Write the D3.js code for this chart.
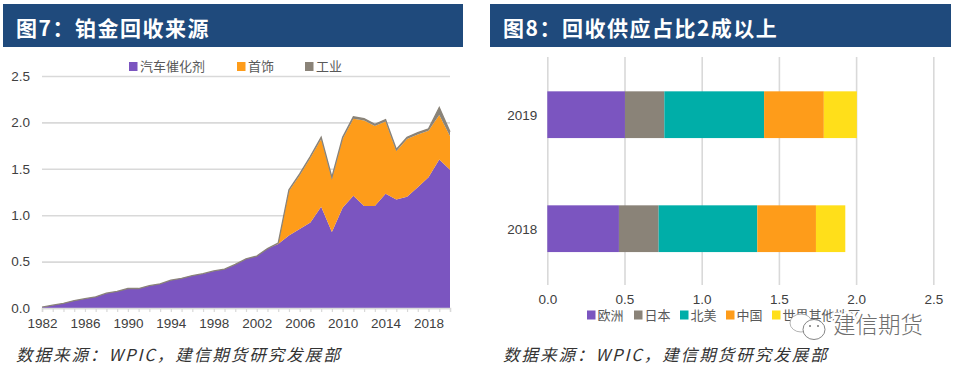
<!DOCTYPE html>
<html>
<head>
<meta charset="utf-8">
<script src="https://cdn.jsdelivr.net/npm/d3@7"></script>
<style>
  html, body { margin: 0; padding: 0; background: #fff; }
  svg { display: block; }
  .tick text, .num { font-family: "Liberation Sans", Arial, sans-serif; font-size: 13.5px; fill: #404040; }
  .legend text { font-family: "Noto Sans CJK SC", sans-serif; font-size: 13px; fill: #595959; }
  .head { font-family: "Noto Sans CJK SC", sans-serif; font-weight: 700; font-size: 21px; fill: #fff; letter-spacing: 1.5px; }
  .source { font-family: "Noto Sans CJK SC", sans-serif; font-style: italic; font-size: 16.5px; fill: #333; letter-spacing: 2px; }
</style>
</head>
<body>
<svg id="chart" width="954" height="366"></svg>
<script>
const years = d3.range(1982, 2021);
const autocatalyst = [0.01, 0.03, 0.05, 0.08, 0.10, 0.12, 0.16, 0.18, 0.21, 0.21, 0.24, 0.26, 0.30, 0.32, 0.35, 0.37, 0.40, 0.42, 0.47, 0.53, 0.56, 0.64, 0.69, 0.78, 0.85, 0.92, 1.09, 0.82, 1.08, 1.21, 1.10, 1.10, 1.23, 1.17, 1.20, 1.30, 1.41, 1.60, 1.49];
const jewellery = [0, 0, 0, 0, 0, 0, 0, 0, 0, 0, 0, 0, 0, 0, 0, 0, 0, 0, 0, 0, 0, 0, 0.005, 0.48, 0.58, 0.70, 0.73, 0.57, 0.74, 0.83, 0.92, 0.86, 0.78, 0.52, 0.62, 0.57, 0.50, 0.48, 0.36];
const industrial = [0, 0, 0, 0, 0, 0, 0, 0, 0, 0, 0, 0, 0, 0, 0, 0, 0, 0, 0, 0, 0, 0, 0.005, 0.015, 0.015, 0.015, 0.02, 0.02, 0.02, 0.02, 0.02, 0.02, 0.02, 0.02, 0.02, 0.02, 0.02, 0.08, 0.05];
const areaNames = ['汽车催化剂', '首饰', '工业'];
const valueTicks = [0, 0.5, 1, 1.5, 2, 2.5];

const barYears = ['2019', '2018'];
const regionNames = ['欧洲', '日本', '北美', '中国', '世界其他地区'];
const europe = [0.503, 0.464];
const japan = [0.255, 0.257];
const northAmerica = [0.646, 0.639];
const china = [0.387, 0.380];
const restOfWorld = [0.214, 0.190];

const titleLeft = ['图7：', '铂金回收来源'];
const titleRight = ['图8：', '回收供应占比2成以上'];
const sourceText = '数据来源：WPIC，建信期货研究发展部';

const purple = '#7b55c0', orange = '#fe9c1a', grey = '#8a8378', teal = '#00aea8', yellow = '#ffdf1a';
const gridColor = '#d9d9d9';

const svg = d3.select('#chart');

// header bands + source lines
const header = (x, w, parts) => {
    svg.append('rect').attr('x', x).attr('y', 4).attr('width', w).attr('height', 43).attr('fill', '#1f4a7c');
    svg.append('text').attr('class', 'head').attr('x', x + 13).attr('y', 36).text(parts.join(''));
};
header(3, 460, titleLeft);
header(490, 461, titleRight);

svg.append('text').attr('class', 'source').attr('x', 16).attr('y', 361).text(sourceText);
svg.append('text').attr('class', 'source').attr('x', 503).attr('y', 361).text(sourceText);

// left chart: stacked area
const xScale = d3.scaleLinear().domain([1982, 2020]).range([42, 450]);
const yScale = d3.scaleLinear().domain([0, 2.5]).range([308, 76]);

const left = svg.append('g');

const yAxis = d3.axisLeft(yScale)
    .tickValues(valueTicks)
    .tickSize(-(450 - 42))
    .tickPadding(12)
    .tickFormat(d3.format('.1f'));

left.append('g')
    .attr('transform', 'translate(42,0)')
    .call(yAxis)
    .call(g => g.select('.domain').remove())
    .call(g => g.selectAll('.tick line').attr('stroke', gridColor).attr('stroke-width', 1.6));

const rows = years.map((y, i) => ({ year: y, a: autocatalyst[i], j: jewellery[i], n: industrial[i] }));
const stacked = d3.stack().keys(['a', 'j', 'n'])(rows);
const areaColors = [purple, orange, grey];

const area = d3.area()
    .x(d => xScale(d.data.year))
    .y0(d => yScale(d[0]))
    .y1(d => yScale(d[1]));

left.selectAll('.layer').data(stacked).enter().append('path')
    .attr('class', 'layer')
    .attr('fill', (d, i) => areaColors[i])
    .attr('d', area);

// the grey series is thin, keep a hairline on top like the original
const topLine = d3.line().x(d => xScale(d.data.year)).y(d => yScale(d[1]));
left.append('path')
    .attr('d', topLine(stacked[2]))
    .attr('fill', 'none')
    .attr('stroke', grey)
    .attr('stroke-width', 1.3);

const xAxis = d3.axisBottom(xScale)
    .tickValues(years.slice(0, -1))
    .tickSize(4)
    .tickPadding(6)
    .tickFormat(d => (d - 1982) % 4 === 0 ? d : '');

left.append('g')
    .attr('transform', 'translate(0,308)')
    .call(xAxis)
    .call(g => g.select('.domain').attr('stroke', gridColor).attr('stroke-width', 1.6))
    .call(g => g.selectAll('.tick line').attr('stroke', gridColor).attr('stroke-width', 1.2));

const legend = (names, colors, xs, y, step) => {
    const item = svg.append('g').attr('class', 'legend').selectAll('g').data(names).enter().append('g')
        .attr('transform', (d, i) => `translate(${xs[i]},${y})`);
    item.append('rect').attr('y', -4.5).attr('width', 8.5).attr('height', 9).attr('fill', (d, i) => colors[i]);
    item.append('text').attr('x', step).attr('y', 4.7).text(d => d);
};
legend(areaNames, areaColors, [129, 237, 305], 66.5, 11);

// right chart: stacked bars
const barX = d3.scaleLinear().domain([0, 2.5]).range([547.3, 933.3]);
const barY = d3.scaleBand().domain(barYears).range([57.7, 285.7]).paddingInner(0.59).paddingOuter(0.295);

const right = svg.append('g');

const barXAxis = d3.axisBottom(barX)
    .tickValues(valueTicks)
    .tickSize(-(285 - 57))
    .tickPadding(9)
    .tickFormat(d3.format('.1f'));

right.append('g')
    .attr('transform', 'translate(0,285)')
    .call(barXAxis)
    .call(g => g.select('.domain').remove())
    .call(g => g.selectAll('.tick line').attr('stroke', gridColor).attr('stroke-width', 1.6));

const barRows = barYears.map((y, i) => ({
    year: y, e: europe[i], j: japan[i], n: northAmerica[i], c: china[i], r: restOfWorld[i]
}));
const barStack = d3.stack().keys(['e', 'j', 'n', 'c', 'r'])(barRows);
const barColors = [purple, grey, teal, orange, yellow];

right.selectAll('.series').data(barStack).enter().append('g')
    .attr('class', 'series')
    .attr('fill', (d, i) => barColors[i])
    .selectAll('rect').data(d => d).enter().append('rect')
    .attr('x', d => barX(d[0]))
    .attr('y', d => barY(d.data.year))
    .attr('width', d => barX(d[1]) - barX(d[0]))
    .attr('height', barY.bandwidth());

right.append('g')
    .attr('transform', 'translate(547.3,0.8)')
    .call(d3.axisLeft(barY).tickSize(0).tickPadding(10))
    .call(g => g.select('.domain').remove());

legend(regionNames, barColors, [587, 634, 680, 726, 772], 315, 10.5);

// watermark over the legend
const mark = svg.append('g');
const bubbles = mark.append('g').attr('fill', '#fff').attr('stroke', '#777').attr('stroke-width', 0.9);
bubbles.append('ellipse').attr('cx', 801).attr('cy', 323).attr('rx', 11).attr('ry', 9).attr('stroke', '#aaa');
bubbles.append('ellipse').attr('cx', 814).attr('cy', 329.5).attr('rx', 11).attr('ry', 10);
mark.append('circle').attr('cx', 810).attr('cy', 326).attr('r', 1).attr('fill', '#777');
mark.append('circle').attr('cx', 818).attr('cy', 326).attr('r', 1).attr('fill', '#777');
mark.append('text')
    .attr('x', 833).attr('y', 333)
    .attr('font-family', '"Noto Sans CJK SC", sans-serif')
    .attr('font-weight', 300)
    .attr('font-size', 22.5)
    .attr('fill', '#6e6e6e')
    .attr('stroke', '#fff')
    .attr('stroke-width', 5)
    .attr('paint-order', 'stroke')
    .text('建信期货');
</script>
</body>
</html>
